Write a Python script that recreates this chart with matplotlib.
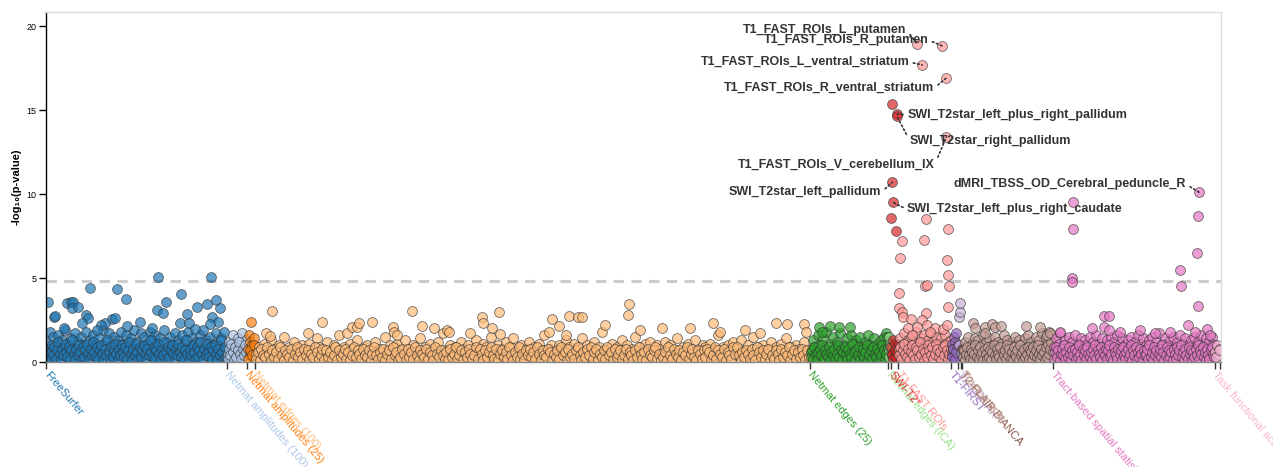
import numpy as np
import matplotlib
matplotlib.use("Agg")
import matplotlib.pyplot as plt

plt.rcParams['font.family'] = ['Liberation Sans', 'DejaVu Sans']

# ---------------- data ----------------
categories = ["FreeSurfer", "Netmat amplitudes (100)", "Netmat amplitudes (25)",
              "Netmat edges (100)", "Netmat edges (25)", "Netmat edges (ICA)",
              "SWI-T2*", "T1-FAST ROIs", "T1-FIRST", "T1-SIENAX",
              "T2-FLAIR BIANCA", "Tractography", "Tract-based spatial statistics",
              "Task functional activation"]
n_idps = [484, 54, 21, 1485, 210, 7, 19, 142, 19, 8, 3, 243, 432, 17]
colors = ["#1f77b4", "#aec7e8", "#ff7f0e", "#ffbb78", "#2ca02c", "#98df8a",
          "#d62728", "#ff9896", "#9467bd", "#c5b0d5", "#8c564b", "#c49c94",
          "#e377c2", "#f7b6d2"]

threshold = 4.82

# bulk values (spread evenly across each category)
fs_vals = [1.2,0.4,1.8,0.7,1.5,0.2,1.0,1.6,0.5,1.3,0.9,1.9,0.3,1.1,0.6,1.4,0.8,1.7,0.2,1.2,
           0.5,1.5,1.0,0.3,1.8,0.7,1.3,0.4,1.6,0.9,1.1,0.2,1.4,0.6,1.9,0.8,1.2,0.5,1.7,1.0,
           0.3,1.5,0.7,1.3,0.4,1.8,1.1,0.6,1.6,0.2,1.0,1.4,0.8,1.9,0.5,1.2,0.3,1.7,0.9,1.5,
           0.6,1.1,0.4,1.8,1.3,0.7,1.6,0.2,1.0,1.4,0.5,1.9,0.8,1.2,0.3,1.5,1.0,0.6,1.7,0.4,
           1.3,0.9,1.6,0.2,1.1,0.7,1.8,0.5,1.4,1.0,0.3,1.2,0.8,1.6,0.6,1.9,0.4,1.3,0.9,1.5,
           0.7,1.1,0.2,1.7,1.0,0.5,1.4,0.8,1.8,0.3]
fs_base = [.3,.8,.1,.6,1.0,.4,.9,.2,.7,1.2,.5,.1,.8,.4,1.1,.6,.3,.9,.2,.7,
           1.3,.5,.1,.8,.4,1.0,.6,.2,.9,.3,.7,1.1,.5,.1,.8,.4,1.2,.6,.3,.9,
           .2,.7,1.0,.5,.1,.8,.4,1.3,.6,.2,.9,.3,.7,1.1,.5,.1,.8,.4,1.0,.6,
           .3,.9,.2,.7,1.2,.5,.1,.8,.4,1.1,.6,.2,.9,.3,.7,1.0,.5,.1,.8,.4,
           1.3,.6,.3,.9,.2,.7,1.1,.5,.1,.8,.4,1.2,.6,.2,.9,.3,.7,1.0,.5,.1,
           .8,.4,1.1,.6,.3,.9,.2,.7,1.3,.5,.1,.8,.4,1.0,.6,.2,.9,.3,.7,1.2,
           .5,.1,.8,.4,1.1,.6,.3,.9,.2,.7,1.0,.5,.1,.8,.4,1.3,.6,.2,.9,.3]
na100_vals = [0.5,1.2,0.3,0.9,1.6,0.7,0.2,1.4,1.0,0.4,1.7,0.8,0.6,1.3]
na100_base = [.2,.8,.4,1.1,.6,.1,.9,.3,.7,1.2,.5,.2,.8,.4,1.0,.6]
na25_vals = [0.8,1.6,0.4,1.2,0.6,1.0,0.3,1.4]
na25_base = [.2,.7,.4,1.0]
ne100_vals = [0.5,0.9,0.2,1.1,0.7,0.4,1.3,0.8,0.3,1.0,0.6,1.5,0.2,0.9,0.5,1.2,0.8,0.3,1.0,0.6,
              0.4,1.1,0.7,0.2,1.4,0.9,0.5,0.8,1.2,0.3,0.7,1.0,0.4,1.6,0.6,0.9,0.2,1.1,0.8,0.5,
              1.3,0.6,0.3,0.9,1.0,0.4,0.7,1.2,0.5,0.8,0.2,1.5,0.6,1.0,0.3,0.9,1.1,0.7,0.4,1.3,
              0.8,0.5,1.0,0.2,0.7,1.4,0.6,0.9,0.3,1.1,0.8,0.5,1.2,0.4,1.7,0.7,0.3,1.0,0.6,0.9,
              0.2,1.2,0.8,0.5,1.0,0.3,0.7,1.3,0.6,0.4,1.1,0.9,0.2,1.5,0.7,0.5,1.0,0.8,0.3,1.2,
              0.6,0.9,1.4,0.4,0.7,1.0,0.2,0.8,1.2,0.5,0.9,0.3,1.1,0.7,1.6,0.4,0.8,1.0,0.6,0.3,
              1.0,0.7,0.4,1.3,0.9,0.5,1.1,0.2,0.8,1.4,0.6,1.0,0.3,0.7,1.2,0.5,0.9,1.8,0.4,0.8,
              0.3,1.1,0.6,0.9,0.2,1.3,0.7,1.0,0.5,0.8,1.5,0.4,0.9,0.6,1.1,0.3,1.2,0.7,0.5,1.0,
              0.8,0.4,1.2,0.6,1.0,0.3,0.7,1.4,0.5,0.9,0.2,1.1,0.8,0.6,1.3,0.4,0.7,1.0,0.9,0.5,
              1.1,0.3,0.8,1.6,0.5,0.9,0.2,1.0,0.7,1.2,0.4,0.8,1.3,0.6,0.3,1.0,0.7,1.5,0.5,0.9,
              0.6,1.0,0.3,0.8,1.2,0.5,0.9,0.4,1.1,0.7,1.4,0.2,0.9,0.6,1.0,0.8,0.3,1.2,0.5,0.7]
ne100_base = [.2,.6,.1,.8,.4,.3,.9,.5,.1,.7,.3,.6,.2,.9,.4,.1,.7,.5,.3,.8,
              .1,.5,.9,.3,.6,.2,.8,.4,.7,.1,.5,.3,.9,.6,.2,.4,.8,.1,.7,.3,
              .6,.2,.4,.9,.1,.7,.3,.5,.8,.2,.6,.1,.4,.9,.3,.7,.5,.2,.8,.4,
              .3,.7,.1,.5,.9,.4,.2,.6,.3,.8,.1,.5,.7,.2,.9,.4,.6,.1,.3,.8,
              .5,.1,.8,.3,.6,.2,.9,.4,.1,.7,.5,.3,.8,.2,.6,.4,.1,.9,.5,.3,
              .7,.4,.2,.6,.1,.8,.3,.5,.9,.2,.4,.7,.1,.6,.3,.8,.5,.2,.4,.9,
              .2,.8,.5,.1,.7,.3,.6,.9,.4,.2,.8,.1,.5,.7,.3,.6,.2,.9,.4,.1,
              .6,.3,.9,.2,.5,.1,.7,.4,.8,.3,.6,.2,.9,.5,.1,.7,.4,.3,.8,.6,
              .1,.5,.3,.7,.2,.9,.4,.6,.1,.8,.3,.5,.2,.7,.9,.4,.1,.6,.3,.8,
              .4,.9,.2,.6,.8,.1,.5,.3,.7,.2,.9,.4,.6,.1,.8,.3,.5,.7,.2,.4,
              .8,.2,.6,.4,.1,.7,.3,.9,.5,.2,.6,.1,.8,.4,.3,.7,.9,.2,.5,.1,
              .3,.6,.1,.9,.4,.2,.8,.5,.3,.7,.1,.6,.4,.9,.2,.5,.8,.3,.1,.7,
              .5,.2,.7,.3,.8,.6,.1,.4,.9,.2,.7,.5,.3,.8,.1,.6,.4,.2,.9,.5,
              .9,.4,.1,.6,.3,.7,.5,.2,.8,.4,.1,.9,.6,.3,.7,.2,.5,.8,.1,.4,
              .2,.7,.5,.1,.8,.3,.6,.4,.9,.1,.5,.7,.2,.6,.3,.8,.4,.1,.7,.3]
ne25_vals = [0.6,1.3,0.9,0.3,1.6,1.0,0.5,1.4,0.8,1.8,0.4,1.1,0.7,1.5,0.2,1.2,0.9,1.7,0.6,1.0,
             0.3,1.4,0.8,1.6,0.5,1.1,1.3,0.7,1.5,0.4,0.9,1.2,0.6,1.6,1.0,0.3,1.4,0.8,1.1,0.5,
             1.3,0.7,1.5,0.9,1.2]
ne25_base = [.3,.7,.2,.9,.5,.1,.6,.8,.4,1.0,.2,.7,.5,.3,.9,.1,.6,.4,.8,.2,
             .5,1.0,.3,.7,.1,.6,.9,.4,.2,.8,.5,.3,1.1,.6,.1,.7,.4,.9,.2,.5,
             .8,.3,.6,1.0,.1,.4,.7,.2,.9,.5,.3,.8,.6,.1,.4,1.0,.7,.2,.5,.9]
ica_vals = [1.5,0.7,1.1,0.4]
ica_base = [.3,.9]
swi_vals = [0.9,0.4,1.3,0.6,1.1,0.3,0.8,1.0]
swi_base = [.5,.2,.7,.3,.6]
t1fast_vals = [0.8,1.4,0.5,1.1,1.7,0.3,0.9,1.3,0.6,1.5,1.0,0.4,1.2,1.8,0.7,1.1,0.5,1.4,0.9,1.6,
               0.3,1.0,1.3,0.6,1.7,0.8,1.2,0.4,1.5,0.9,1.1,0.6,1.4,0.3,1.0,1.6,0.7,1.2,0.5,1.3]
t1fast_base = [.4,.9,.2,.7,1.1,.5,.3,.8,.1,.6,1.0,.4,.2,.9,.7,.3,1.2,.5,.8,.1,
               .6,.3,1.0,.7,.4,.9,.2,.5,1.1,.8,.3,.6,.1,.9,.4,1.0,.7,.2,.5,.8]
t1first_vals = [0.5,1.1,0.8,1.5,0.3,1.2,0.7,1.7,0.9,0.4]
t1first_base = [.3,.8,.2,.6,1.0]
sienax_vals = [1.0,2.7,3.0,3.5,0.6]
sienax_base = []
bianca_vals = [0.8]
bianca_base = []
tract_vals = [0.7,1.2,0.4,1.5,0.9,0.2,1.1,0.6,1.4,0.8,1.3,0.3,1.0,1.6,0.5,1.2,0.8,1.4,0.3,1.0,
              0.6,1.5,0.9,1.2,0.4,1.1,0.7,1.6,0.5,1.3,0.9,0.2,1.2,0.7,1.5,1.0,0.4,1.3,0.8,1.1,
              0.5,1.4,0.9,1.6,0.3,1.2,0.7,1.0,1.5,0.6,1.3,0.8,1.7,0.4,1.1,1.5,0.9,1.8,1.2,1.6]
tract_base = [.3,.7,.1,.5,.9,.4,.2,.8,.6,.1,.5,1.0,.3,.7,.2,.9,.4,.6,.1,.8,
              .5,.2,.9,.3,.7,.1,.6,1.0,.4,.2,.8,.5,.3,.9,.1,.6,.4,.7,.2,1.0,
              .4,.8,.2,.6,.1,.9,.5,.3,.7,.2,1.0,.4,.6,.1,.8,.3,.5,.9,.2,.7,
              .6,.1,.9,.4,.7,.3,1.0,.5,.2,.8,.4,.6,.1,.9,.3,1.1,.5,.8,1.2,.6]
tbss_vals = [0.9,1.4,0.5,1.1,1.7,0.3,1.0,1.3,0.6,1.5,0.8,1.2,0.4,1.6,0.9,1.1,0.2,1.4,0.7,1.3,
             1.0,0.5,1.5,0.8,1.2,0.3,1.6,0.9,1.1,0.6,1.4,0.4,1.0,1.3,0.7,1.5,0.2,1.2,0.8,1.6,
             0.5,1.1,1.4,0.7,1.0,0.3,1.3,0.9,1.5,0.6,1.2,0.4,1.6,0.8,1.1,1.4,0.5,1.0,0.7,1.3,
             0.3,1.5,0.9,1.2,0.6,1.7,0.8,1.1,0.4,1.4,1.0,0.6,1.3,0.2,1.5,0.9,1.2,0.7,1.6,0.5,
             1.1,1.4,0.8,1.0,0.3,1.3,0.6,1.5,0.9,1.2,0.4,1.6,0.7,1.1,1.4,0.5,1.2,0.8,1.5,1.0]
tbss_base = [.2,.6,.9,.3,.7,.1,.5,.8,.4,1.0,.2,.6,.3,.9,.5,.1,.7,.4,.8,.2,
             .6,.3,1.0,.5,.1,.8,.4,.7,.2,.9,.5,.3,.6,.1,.8,.4,1.0,.2,.7,.5,
             .3,.9,.1,.6,.4,.8,.2,.7,1.0,.3,.5,.1,.9,.6,.4,.2,.8,.5,.7,.1,
             .9,.4,.2,.6,.8,.3,.5,1.0,.1,.7,.4,.9,.2,.6,.3,.8,.5,.1,.7,.4,
             .5,.8,.2,1.0,.3,.6,.1,.9,.4,.7,.2,.5,.8,.3,1.0,.6,.1,.4,.9,.2,
             .7,.3,.6,.1,.8,.5,.2,.9,.4,.7,1.0,.3,.6,.1,.8,.4,.2,.9,.5,.7,
             .1,.6,.3,.8,.4,1.0,.2,.7,.5,.9,.3,.6,.1,.8,.4,.2,.7,.9,.5,.3]
task_vals = [0.6,1.0,0.4,0.8]
task_base = [.3,.7]

# individual higher points: index of the IDP inside its category, and value
fs_peak_idx = [300,441,118,190,214,361,5,56,67,72,70,86,321,297,313,377,404,431,455,465,
               444,21,24,107,112,177,185,251,158,147,217,284,358,383,399,460,439,48,136,96]
fs_peak_val = [5.05,5.05,4.4,4.35,3.75,4.05,3.55,3.5,3.6,3.6,3.2,3.3,3.6,3.1,2.9,2.85,3.3,3.45,3.7,3.2,
               2.7,2.7,2.75,2.8,2.6,2.55,2.6,2.4,2.3,2.2,2.15,2.0,2.35,2.3,1.95,2.4,2.25,2.0,1.9,2.3]
na25_peak_idx = [11]
na25_peak_val = [2.4]
ne100_peak_idx = [29,40,45,142,179,246,259,273,278,313,369,371,380,420,447,479,514,519,575,607,
                  610,634,653,655,786,794,813,832,840,864,875,936,1000,998,1030,1089,1164,1225,1244,1311,
                  1351,1394,1423,1469,1474]
ne100_peak_val = [1.7,1.55,3.05,1.7,2.4,1.7,2.1,2.1,2.3,2.4,2.1,1.8,1.6,3.05,2.15,2.0,1.9,1.8,1.7,2.7,
                  2.3,2.0,3.0,1.65,1.8,2.55,2.15,1.6,2.75,2.7,2.65,2.2,3.45,2.8,1.9,2.0,2.0,2.3,1.8,1.9,
                  1.7,2.3,2.25,2.25,1.8]
ne25_peak_idx = [24,32,53,78,107,203,206]
ne25_peak_val = [2.1,1.8,2.15,2.1,2.1,1.75,1.5]
swi_peak_idx = [0,3,13]
swi_peak_val = [8.55,15.35,7.8]
t1fast_peak_idx = [75,11,70,5,134,131,134,72,78,136,3,3,11,13,134,75,35,64,78,99,120,131,27,51,85,37]
t1fast_peak_val = [8.5,7.2,7.26,6.2,7.9,6.1,5.2,4.5,4.6,4.5,4.1,3.2,3.0,2.7,3.3,2.9,2.55,2.5,2.2,2.0,
                   1.95,2.2,2.0,2.1,1.8,1.6]
tract_peak_idx = [29,32,59,78,88,102,59,171,206,227,235]
tract_peak_val = [2.35,2.0,2.1,2.25,2.1,2.15,1.7,2.15,2.1,1.6,1.7]
tbss_peak_idx = [53,53,51,51,136,150,136,150,388,385,340,342,388,361,412,19,102,179,233,273,313,380,420]
tbss_peak_val = [9.5,7.9,5.0,4.75,2.75,2.75,2.1,1.9,8.7,6.5,5.5,4.5,3.35,2.2,1.95,1.8,2.0,1.8,1.9,1.7,
                 1.8,1.8,1.6]

# labelled IDPs
ann_labels = ["T1_FAST_ROIs_L_putamen", "T1_FAST_ROIs_R_putamen",
              "T1_FAST_ROIs_L_ventral_striatum", "T1_FAST_ROIs_R_ventral_striatum",
              "SWI_T2star_left_plus_right_pallidum", "SWI_T2star_right_pallidum",
              "T1_FAST_ROIs_V_cerebellum_IX", "SWI_T2star_left_pallidum",
              "SWI_T2star_left_plus_right_caudate", "dMRI_TBSS_OD_Cerebral_peduncle_R"]
ann_category = [7, 7, 7, 7, 6, 6, 7, 6, 6, 12]
ann_idx = [51, 118, 64, 128, 16, 15, 129, 3, 5, 390]
ann_value = [18.93, 18.81, 17.68, 16.9, 14.76, 14.65, 13.4, 10.7, 9.5, 10.1]

bulk_values = [fs_vals, na100_vals, na25_vals, ne100_vals, ne25_vals, ica_vals, swi_vals,
               t1fast_vals, t1first_vals, sienax_vals, bianca_vals, tract_vals, tbss_vals, task_vals]
base_values = [fs_base, na100_base, na25_base, ne100_base, ne25_base, ica_base, swi_base,
               t1fast_base, t1first_base, sienax_base, bianca_base, tract_base, tbss_base, task_base]
peak_idx = [fs_peak_idx, [], na25_peak_idx, ne100_peak_idx, ne25_peak_idx, [], swi_peak_idx,
            t1fast_peak_idx, [], [], [], tract_peak_idx, tbss_peak_idx, []]
peak_val = [fs_peak_val, [], na25_peak_val, ne100_peak_val, ne25_peak_val, [], swi_peak_val,
            t1fast_peak_val, [], [], [], tract_peak_val, tbss_peak_val, []]

# ---------------- layout ----------------
W, H = 1273, 467
fig = plt.figure(figsize=(W / 100, H / 100), dpi=100)
ax_l, ax_r, ax_t, ax_b = 46, 1221, 12, 362
ax = fig.add_axes([ax_l / W, (H - ax_b) / H, (ax_r - ax_l) / W, (ax_b - ax_t) / H])

starts = np.concatenate([[0], np.cumsum(n_idps)[:-1]])
total = int(np.sum(n_idps))
ymax = (ax_b - ax_t) / 16.8
ax.set_xlim(0, total)
ax.set_ylim(0, ymax)

ax.axhline(threshold, color="#cccccc", lw=2.2, ls=(0, (3.4, 2.4)), zorder=1)


def spread(c, vals):
    vals = np.asarray(vals, dtype=float)
    if len(vals) == 0:
        return np.array([]), vals
    return starts[c] + (np.arange(len(vals)) + 0.5) * n_idps[c] / len(vals), vals


for c in range(len(categories)):
    bx, by = spread(c, base_values[c])
    vx, vy = spread(c, bulk_values[c])
    px = starts[c] + np.asarray(peak_idx[c], dtype=float) + 0.5
    pv = np.asarray(peak_val[c], dtype=float)
    ai = [ann_idx[k] for k in range(len(ann_labels)) if ann_category[k] == c]
    av = [ann_value[k] for k in range(len(ann_labels)) if ann_category[k] == c]
    qx = starts[c] + np.asarray(ai, dtype=float) + 0.5
    allx = np.concatenate([vx, bx, px, qx])
    ally = np.concatenate([vy, by, pv, np.asarray(av, dtype=float)])
    ax.scatter(allx, ally, s=50, facecolor=colors[c], edgecolor="#333333",
               linewidths=0.6, alpha=0.7, zorder=2)

# annotations (offsets in pixels)
ann_offsets = [(-11, 14), (-14, 6), (-13, 3), (-12, -10), (10, -1),
               (13, -25), (-12, -28), (-11, -10), (14, -7), (-13, 8)]
for k, lab in enumerate(ann_labels):
    c = ann_category[k]
    x = starts[c] + ann_idx[k] + 0.5
    y = ann_value[k]
    dx, dy = ann_offsets[k]
    ha = "right" if dx < 0 else "left"
    rel = (1.0, 0.5) if dx < 0 else (0.0, 0.5)
    ax.annotate(lab, xy=(x, y), xytext=(dx * 0.72, dy * 0.72), textcoords="offset points",
                ha=ha, va="center", fontsize=9, fontweight="bold", color="#333333", zorder=4,
                arrowprops=dict(arrowstyle="-", ls=(0, (1, 1.6)), lw=1.2, color="#333333",
                                shrinkA=1, shrinkB=0, relpos=rel))

# spines
ax.spines["left"].set_color("black")
ax.spines["left"].set_linewidth(1.0)
ax.spines["bottom"].set_color("#888888")
ax.spines["bottom"].set_linewidth(1.0)
for s in ("top", "right"):
    ax.spines[s].set_color("#dddddd")
    ax.spines[s].set_linewidth(1.0)

ax.set_yticks([0, 5, 10, 15, 20])
ax.tick_params(axis="y", labelsize=6.5, length=5, width=1, pad=2, colors="black")
ax.set_ylabel("-log\u2081\u2080(p-value)", fontsize=8, fontweight="bold")
ax.yaxis.set_label_coords((22 - ax_l) / (ax_r - ax_l), 0.5)

tick_pos = list(starts) + [total - 2]
tick_lab = list(categories) + [""]
ax.set_xticks(tick_pos)
ax.set_xticklabels(tick_lab, rotation=-50, ha="left", va="center", rotation_mode="anchor", fontsize=8)
ax.tick_params(axis="x", length=5, width=1, pad=3, color="#333333")
for lbl, col in zip(ax.get_xticklabels(), colors + ["#000000"]):
    lbl.set_color(col)

fig.savefig("out.png", dpi=100)
